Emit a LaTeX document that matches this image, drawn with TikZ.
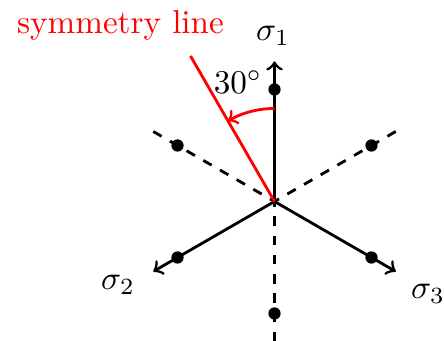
\documentclass[tikz,border=0pt]{standalone}
\usetikzlibrary{arrows}
\begin{document}
\begin{tikzpicture}[x=0.3012pt,y=0.3012pt,
  axis/.style={line width=0.85pt,->},
  dashaxis/.style={line width=0.85pt,dash pattern=on 2.9pt off 2.9pt},
  redline/.style={line width=0.85pt,red},
  dot/.style={circle,fill=black,inner sep=0pt,minimum size=3.7pt},
  lbl/.style={inner sep=0pt}]
\useasboundingbox (0,0) rectangle (444,341);
\begin{scope}[shift={(274.5,139.5)}]
  \coordinate (O) at (0,0);
  \coordinate (e1) at (90:140);
  \coordinate (e2) at (210:140);
  \coordinate (e3) at (330:140);
  \coordinate (d1) at (150:140);
  \coordinate (d2) at (30:140);
  \coordinate (d3) at (0,-140);
  \coordinate (s) at (120:168);
  \coordinate (a0) at (90:93);
  \draw[axis] (O) -- (e1);
  \draw[axis] (O) -- (e2);
  \draw[axis] (O) -- (e3);
  \draw[dashaxis] (d1) -- (O);
  \draw[dashaxis] (d2) -- (O);
  \draw[dashaxis] (d3) -- (O);
  \node[dot] (p1) at (90:112) {};
  \node[dot] (p2) at (150:112) {};
  \node[dot] (p3) at (30:112) {};
  \node[dot] (p4) at (210:112) {};
  \node[dot] (p5) at (330:112) {};
  \node[dot] (p6) at (270:112) {};
  \draw[redline] (O) -- (s);
  \draw[redline,->] (a0) arc[start angle=90,end angle=120,radius=93];
\end{scope}
\node[lbl] (l1) at (273,305) {$\sigma_1$};
\node[lbl] (l2) at (118,56) {$\sigma_2$};
\node[lbl] (l3) at (428,47) {$\sigma_3$};
\node[lbl] (ang) at (238,259) {$30^\circ$};
\node[lbl,red] (sym) at (120.5,316) {symmetry line};
\end{tikzpicture}
\end{document}
